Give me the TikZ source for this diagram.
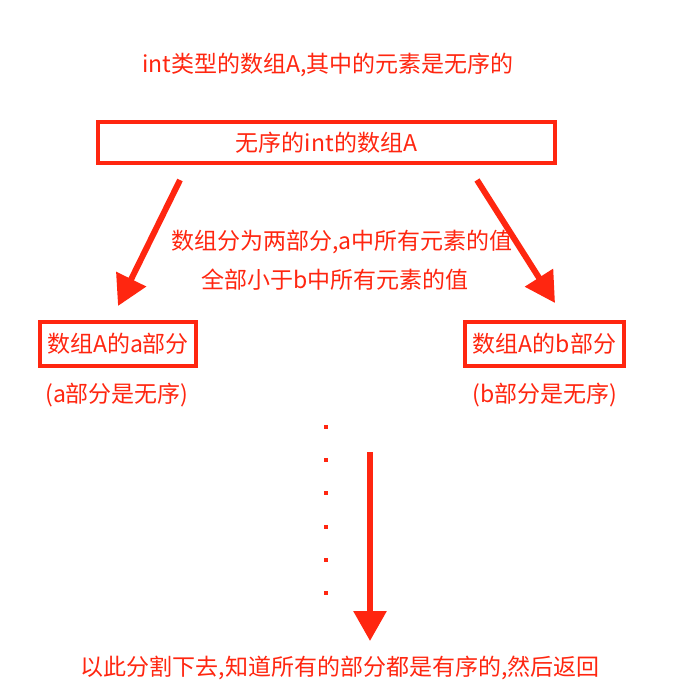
\documentclass[tikz,border=0pt]{standalone}
\usepackage{fontspec}
\setmainfont{Noto Sans CJK SC}
\usepackage{tikz}
\usetikzlibrary{arrows.meta,positioning,calc}
\definecolor{primary}{RGB}{255,38,16}

\begin{document}
\begin{tikzpicture}[x=1pt,y=-1pt,font=\fontsize{23}{27}\selectfont,
  txt/.style={text=primary,inner sep=0pt},
  box/.style={draw=primary,line width=4pt,text=primary,inner sep=0pt},
  bigarrow/.style={primary,line width=6pt,-{Triangle[length=30pt,width=32pt]}}]
\useasboundingbox[fill=white] (0,0) rectangle (700,700);
\node[txt] (title) at (328,65) {int类型的数组A,其中的元素是无序的};
\node[box,minimum width=457pt,minimum height=41pt] (arr) at (326.5,142.5) {无序的int的数组A};
\node[txt] (split1) at (342,242) {数组分为两部分,a中所有元素的值};
\node[txt] (split2) at (335,280) {全部小于b中所有元素的值};
\node[box,minimum width=156pt,minimum height=44pt] (parta) at (118,344) {数组A的a部分};
\node[box,minimum width=159pt,minimum height=44pt] (partb) at (544.5,344) {数组A的b部分};
\node[txt] (nota) at (117,395) {(a部分是无序)};
\node[txt] (notb) at (545,395) {(b部分是无序)};
\node[txt] (result) at (340,668) {以此分割下去,知道所有的部分都是有序的,然后返回};
% arrows
\coordinate (la) at (180,180);
\coordinate (lb) at (118,306);
\coordinate (ra) at (477,180);
\coordinate (rb) at (555,303);
\coordinate (da) at (370,452);
\coordinate (db) at (370,641);
\draw[bigarrow] (la) -- (lb);
\draw[bigarrow] (ra) -- (rb);
\draw[bigarrow] (da) -- (db);
% dots
\foreach \y in {427,460,493,527,560,593}
  \fill[primary] (324,\y-2) rectangle (328,\y+2);
\end{tikzpicture}
\end{document}
